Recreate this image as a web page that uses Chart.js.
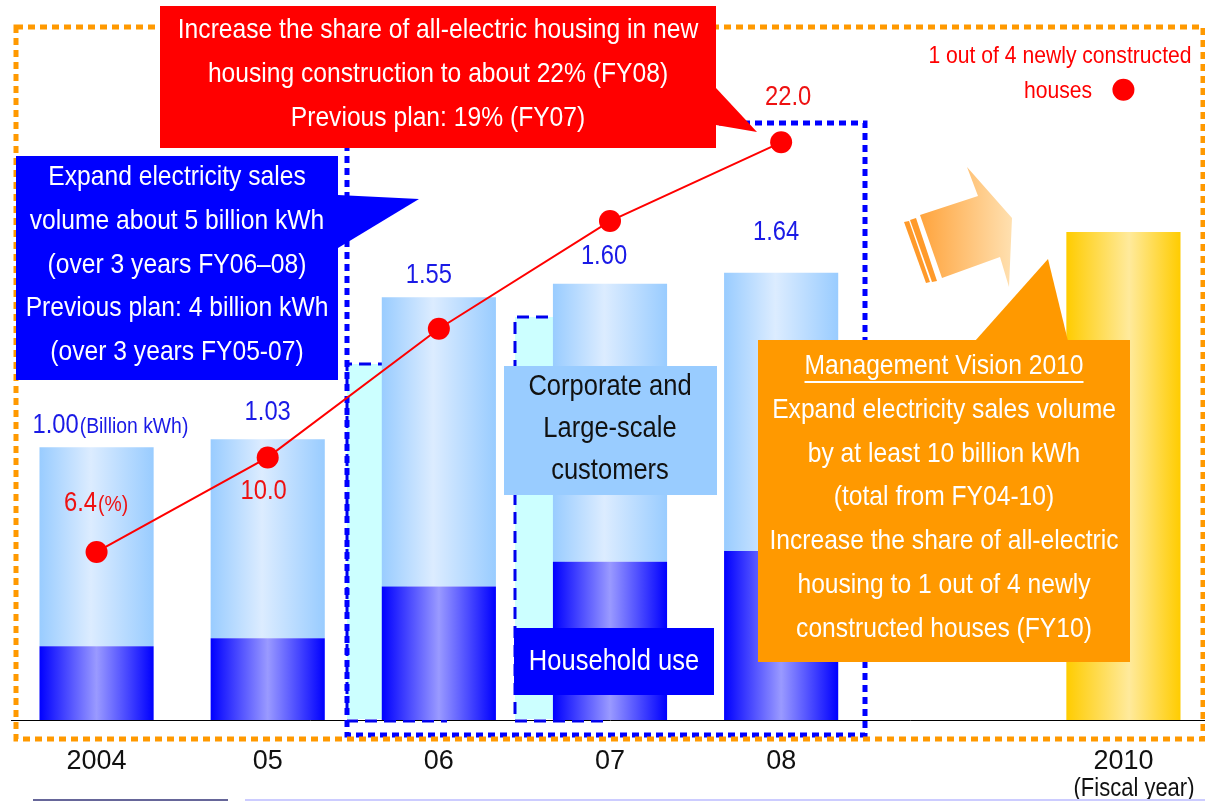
<!DOCTYPE html>
<html>
<head>
<meta charset="utf-8">
<title>Electricity sales volume and all-electric housing share</title>
<script src="https://cdn.jsdelivr.net/npm/chart.js@4.4.1/dist/chart.umd.min.js"></script>
<style>
    html, body { margin: 0; padding: 0; background: #fff; overflow: hidden; }
    #wrap { width: 1205px; height: 801px; overflow: hidden; position: relative; }
    canvas { display: block; }
</style>
</head>
<body>
<div id="wrap"><canvas id="salesChart" width="1220" height="801"></canvas></div>
<script>
// Fiscal years on the category axis (09 is left empty)
const fiscalYears = ['2004', '05', '06', '07', '08', '', '2010'];

// Electricity sales increase, billion kWh
const householdUse = [0.27, 0.30, 0.49, 0.58, 0.62, null, null];
const corporateUse = [0.73, 0.73, 1.06, 1.02, 1.02, null, null];
const visionTarget = [null, null, null, null, null, null, 1.79];

// Share of all-electric housing in new construction, %
const allElectricShare = [6.4, 10.0, 14.9, 19.0, 22.0, null, null];
const shareTarget = [null, null, null, null, null, null, 24];
const shareLabelIdx = [0, 1, 4];

// label nudges (px) from the bar top / point centre
const totalLabelShift = [[-41, -14], [0, -19], [-10, -14], [-6, -20], [-5, -33]];
const shareLabelShift = { 0: [-16, -41], 1: [-4, 42], 4: [7, -37] };

const FONT = "'Liberation Sans', Arimo, Arial, sans-serif";
const NARROW = 0.88;   // squeeze to a condensed look
const BAR_PCT = 0.667;

// condensed text, returns drawn width
function say(ctx, text, x, y, size, color, align) {
    ctx.save();
    ctx.font = size + 'px ' + FONT;
    ctx.fillStyle = color;
    ctx.textAlign = align || 'center';
    ctx.textBaseline = 'alphabetic';
    ctx.translate(x, y);
    ctx.scale(NARROW, 1);
    ctx.fillText(text, 0, 0);
    const w = ctx.measureText(text).width * NARROW;
    ctx.restore();
    return w;
}

function textWidth(ctx, text, size) {
    ctx.save();
    ctx.font = size + 'px ' + FONT;
    const w = ctx.measureText(text).width * NARROW;
    ctx.restore();
    return w;
}

// horizontal "cylinder" shading for each bar
function barShade(stops) {
    return (c) => {
        const chart = c.chart;
        const xs = chart.scales.x;
        if (!xs || c.dataIndex === undefined) return stops[0][1];
        const cx = xs.getPixelForValue(c.dataIndex);
        const half = xs.width / fiscalYears.length * BAR_PCT / 2;
        if (!isFinite(cx) || !isFinite(half) || half <= 0) return stops[0][1];
        const g = chart.ctx.createLinearGradient(cx - half, 0, cx + half, 0);
        stops.forEach(([o, col]) => g.addColorStop(o, col));
        return g;
    };
}

function dashRect(ctx, x1, y1, x2, y2, color, width, dash) {
    ctx.save();
    ctx.strokeStyle = color;
    ctx.lineWidth = width;
    ctx.setLineDash(dash);
    ctx.strokeRect(x1, y1, x2 - x1, y2 - y1);
    ctx.restore();
}

// open dashed frame: right side sits behind a bar anyway
function dashFrame(ctx, x1, y1, x2, y2) {
    ctx.save();
    ctx.strokeStyle = '#0000ee';
    ctx.lineWidth = 3;
    ctx.setLineDash([12, 7]);
    ctx.beginPath();
    ctx.moveTo(x2, y1);
    ctx.lineTo(x1, y1);
    ctx.lineTo(x1, y2);
    ctx.lineTo(x2, y2);
    ctx.stroke();
    ctx.restore();
}

function poly(ctx, pts, fill) {
    ctx.beginPath();
    pts.forEach(([x, y], i) => (i ? ctx.lineTo(x, y) : ctx.moveTo(x, y)));
    ctx.closePath();
    ctx.fillStyle = fill;
    ctx.fill();
}

function callout(ctx, box, tail, fill) {
    ctx.fillStyle = fill;
    ctx.fillRect(box[0], box[1], box[2] - box[0], box[3] - box[1]);
    poly(ctx, tail, fill);
}

function lines(ctx, rows, cx, firstBase, step, size, color) {
    rows.forEach((t, i) => say(ctx, t, cx, firstBase + i * step, size, color));
}

const slideDecor = {
    id: 'slideDecor',
    beforeDatasetsDraw(chart) {
        const ctx = chart.ctx;
        // shaded zones behind 06 and 07
        [[347, 364, 447], [515, 317, 605]].forEach(([x1, y1, x2]) => {
            ctx.fillStyle = '#ccffff';
            ctx.fillRect(x1, y1, x2 - 40 - x1, 719 - y1);
            dashFrame(ctx, x1, y1, x2, 721);
        });
        // plan period frame and outer frame
        dashRect(ctx, 347, 123, 865, 735, '#0000ff', 5, [7, 5]);
        dashRect(ctx, 16, 27, 1203, 739, '#ff9900', 5, [7, 5]);
    },
    afterDatasetsDraw(chart) {
        const ctx = chart.ctx;
        const xs = chart.scales.x, ys = chart.scales.y, y2 = chart.scales.y2;
        ctx.save();

        // totals above bars
        for (let i = 0; i < 5; i++) {
            const total = householdUse[i] + corporateUse[i];
            const [dx, dy] = totalLabelShift[i];
            const cx = xs.getPixelForValue(i) + dx;
            const by = ys.getPixelForValue(total) + dy;
            const w = say(ctx, total.toFixed(2), cx, by, 27, '#1a1ae6');
            if (i === 0) say(ctx, '(Billion kWh)', cx + w / 2 + 1, by, 22, '#1a1ae6', 'left');
        }

        // share values next to the points
        shareLabelIdx.forEach((i) => {
            const [dx, dy] = shareLabelShift[i];
            const cx = xs.getPixelForValue(i) + dx;
            const by = y2.getPixelForValue(allElectricShare[i]) + dy;
            const w = say(ctx, allElectricShare[i].toFixed(1), cx, by, 27, '#ee1111');
            if (i === 0) say(ctx, '(%)', cx + w / 2 + 1, by, 22, '#ee1111', 'left');
        });

        // FY2010 target note
        say(ctx, '1 out of 4 newly constructed', 1060, 63, 24, '#ff0000');
        say(ctx, 'houses', 1058, 98, 24, '#ff0000');

        // segment key boxes
        ctx.fillStyle = '#99ccff';
        ctx.fillRect(504, 366, 213, 129);
        lines(ctx, ['Corporate and', 'Large-scale', 'customers'], 610, 395, 42, 29, '#111');
        ctx.fillStyle = '#0000ff';
        ctx.fillRect(514, 628, 200, 67);
        say(ctx, 'Household use', 614, 670, 29, '#ffffff');

        // arrow towards 2010
        const ag = ctx.createLinearGradient(905, 0, 1012, 0);
        ag.addColorStop(0, '#ff9a2a');
        ag.addColorStop(1, '#ffe0b0');
        poly(ctx, [[920, 215], [978, 196], [967, 167], [1012, 218], [1009, 287], [1000, 257], [942, 278]], ag);
        poly(ctx, [[904, 222], [909, 221], [930, 282], [926, 283]], '#ff9a2a');
        poly(ctx, [[910, 220], [916, 218], [937, 281], [932, 282]], '#ff9a2a');

        // callouts
        callout(ctx, [160, 6, 716, 148], [[716, 88], [757, 132], [716, 125]], '#ff0000');
        lines(ctx, ['Increase the share of all-electric housing in new',
            'housing construction to about 22% (FY08)',
            'Previous plan: 19% (FY07)'], 438, 38, 44, 28, '#ffffff');

        callout(ctx, [16, 156, 338, 380], [[338, 195], [419, 199], [338, 248]], '#0000ff');
        lines(ctx, ['Expand electricity sales', 'volume about 5 billion kWh',
            '(over 3 years FY06\u201308)', 'Previous plan: 4 billion kWh',
            '(over 3 years FY05-07)'], 177, 185, 43.8, 28, '#ffffff');

        callout(ctx, [758, 340, 1130, 662], [[975, 341], [1048, 259], [1068, 341]], '#ff9900');
        lines(ctx, ['Management Vision 2010', 'Expand electricity sales volume',
            'by at least 10 billion kWh', '(total from FY04-10)',
            'Increase the share of all-electric', 'housing to 1 out of 4 newly',
            'constructed houses (FY10)'], 944, 374, 43.8, 28, '#ffffff');
        const uw = textWidth(ctx, 'Management Vision 2010', 28);
        ctx.fillStyle = '#ffffff';
        ctx.fillRect(944 - uw / 2, 381, uw, 2);

        // axis unit and the slide's footer rules
        say(ctx, '(Fiscal year)', 1134, 796, 25, '#111');
        ctx.fillStyle = '#666699';
        ctx.fillRect(33, 799, 195, 2);
        ctx.fillStyle = '#ccccff';
        ctx.fillRect(245, 799, 960, 2);

        ctx.restore();
    }
};

const chart = new Chart(document.getElementById('salesChart'), {
    type: 'bar',
    data: {
        labels: fiscalYears,
        datasets: [
            {
                type: 'line',
                label: 'All-electric share target',
                data: shareTarget,
                yAxisID: 'y2',
                showLine: false,
                pointRadius: 11,
                pointBackgroundColor: '#ff0000',
                pointBorderWidth: 0,
                order: 0
            },
            {
                type: 'line',
                label: 'All-electric share',
                data: allElectricShare,
                yAxisID: 'y2',
                borderColor: '#ff0000',
                borderWidth: 2,
                pointRadius: 11,
                pointBackgroundColor: '#ff0000',
                pointBorderWidth: 0,
                tension: 0,
                order: 0
            },
            {
                label: 'Household use',
                data: householdUse,
                backgroundColor: barShade([[0, '#0000ff'], [0.5, '#9a9aff'], [1, '#0000ff']]),
                order: 1
            },
            {
                label: 'Corporate and Large-scale customers',
                data: corporateUse,
                backgroundColor: barShade([[0, '#99ccff'], [0.45, '#dcecff'], [1, '#99ccff']]),
                order: 1
            },
            {
                label: 'Management Vision 2010',
                data: visionTarget,
                backgroundColor: barShade([[0, '#ffcc00'], [0.55, '#ffea9c'], [1, '#ffcc00']]),
                order: 1
            }
        ]
    },
    options: {
        responsive: false,
        devicePixelRatio: 1,
        animation: false,
        layout: { padding: { left: 6.75, right: 5.75, top: 8, bottom: 0 } },
        datasets: {
            bar: { barPercentage: BAR_PCT, categoryPercentage: 1, borderWidth: 0 }
        },
        plugins: {
            legend: { display: false },
            tooltip: { enabled: false }
        },
        scales: {
            x: {
                stacked: true,
                offset: true,
                grid: { display: false, drawTicks: false },
                border: { display: true, color: '#000000', width: 1 },
                ticks: { color: '#111', font: { family: FONT, size: 27 }, padding: 25, maxRotation: 0, autoSkip: false },
                afterFit: (scale) => { scale.height = 81; }
            },
            y: { stacked: true, min: 0, max: 2.6, display: false },
            y2: { min: 0, max: 27, display: false, position: 'right' }
        }
    },
    plugins: [slideDecor]
});
</script>
</body>
</html>
